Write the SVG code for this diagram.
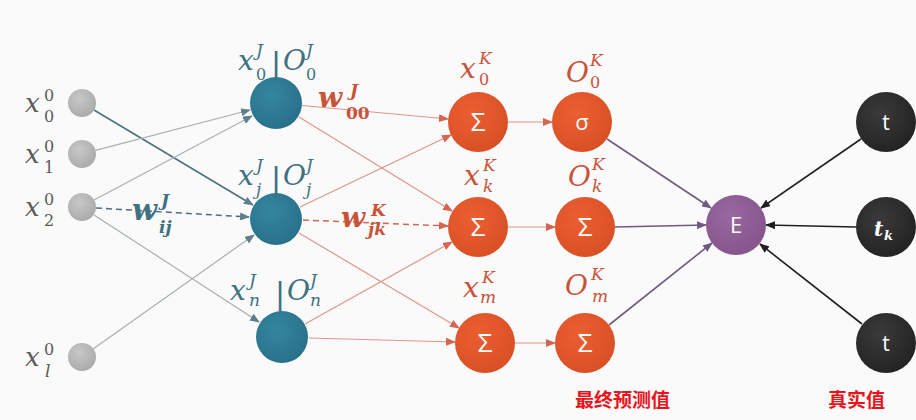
<svg xmlns="http://www.w3.org/2000/svg" width="916" height="420" viewBox="0 0 916 420">
<style>
.m{font-family:"DejaVu Serif","Liberation Serif",serif;font-style:italic}
.big{font-size:28px}
.in{font-size:26px}
.sm{font-size:16px;font-style:normal}
.smi{font-size:17px}
.gry{fill:#5a5a5a}
.tl{fill:#3e7181}
.rd{fill:#c9533a}
.bar{font-family:"DejaVu Sans",sans-serif;font-size:30px;font-style:normal}
.lbl{font-family:"Noto Sans CJK SC","Noto Sans",sans-serif;font-weight:bold;font-size:19px;fill:#e8141c}
.nt{font-family:"Open Sans","DejaVu Sans",sans-serif;fill:#fff;text-anchor:middle}
.eg{stroke:#a8b0b4;stroke-width:1.2;fill:none}
.egd{stroke:#4d6f7d;stroke-width:1.5;fill:none}
.er{stroke:#de968b;stroke-width:1.2;fill:none}
.erd{stroke:#d2664f;stroke-width:1.5;fill:none;stroke-dasharray:6 4}
.ep{stroke:#6e5c80;stroke-width:1.6;fill:none}
.eb{stroke:#1f1f1f;stroke-width:1.6;fill:none}
</style>
<defs>
<radialGradient id="gGray" cx="40%" cy="35%" r="70%"><stop offset="0" stop-color="#c8c8c8"/><stop offset="1" stop-color="#a9a9a9"/></radialGradient>
<radialGradient id="gBlue" cx="40%" cy="35%" r="70%"><stop offset="0" stop-color="#3586a0"/><stop offset="1" stop-color="#286f88"/></radialGradient>
<radialGradient id="gOr" cx="40%" cy="35%" r="70%"><stop offset="0" stop-color="#ea5f31"/><stop offset="1" stop-color="#d94f25"/></radialGradient>
<radialGradient id="gPu" cx="40%" cy="35%" r="70%"><stop offset="0" stop-color="#9a68a0"/><stop offset="1" stop-color="#85548b"/></radialGradient>
<radialGradient id="gBk" cx="40%" cy="35%" r="70%"><stop offset="0" stop-color="#3a3a3a"/><stop offset="1" stop-color="#222"/></radialGradient>
<marker id="aG" markerUnits="userSpaceOnUse" markerWidth="10" markerHeight="8" refX="9" refY="4" orient="auto"><path d="M0,0 L10,4 L0,8 z" fill="#5f7f8b"/></marker>
<marker id="aR" markerUnits="userSpaceOnUse" markerWidth="10" markerHeight="8" refX="9" refY="4" orient="auto"><path d="M0,0 L10,4 L0,8 z" fill="#d2664f"/></marker>
<marker id="aP" markerUnits="userSpaceOnUse" markerWidth="10" markerHeight="8" refX="9" refY="4" orient="auto"><path d="M0,0 L10,4 L0,8 z" fill="#6e5c80"/></marker>
<marker id="aB" markerUnits="userSpaceOnUse" markerWidth="10" markerHeight="8" refX="9" refY="4" orient="auto"><path d="M0,0 L10,4 L0,8 z" fill="#1f1f1f"/></marker>
</defs>
<rect width="916" height="420" fill="#fafafa"/>

<g id="connectors">
<line class="egd" x1="94" y1="110" x2="253" y2="205" marker-end="url(#aG)"/>
<line class="eg" x1="95.5" y1="150.4" x2="250" y2="110" marker-end="url(#aG)"/>
<line class="eg" x1="94" y1="200" x2="252" y2="116" marker-end="url(#aG)"/>
<line class="egd" x1="96" y1="208" x2="249" y2="217" stroke-dasharray="6 4" marker-end="url(#aG)"/>
<line class="eg" x1="94" y1="215" x2="259" y2="322" marker-end="url(#aG)"/>
<line class="eg" x1="93" y1="349" x2="254" y2="235" marker-end="url(#aG)"/>

<line class="er" x1="302" y1="105.5" x2="448" y2="119" marker-end="url(#aR)"/>
<line class="er" x1="299" y1="117" x2="452" y2="211" marker-end="url(#aR)"/>
<line class="er" x1="300" y1="207" x2="451" y2="135" marker-end="url(#aR)"/>
<line class="erd" x1="303" y1="220" x2="448" y2="226" marker-end="url(#aR)"/>
<line class="er" x1="299" y1="233" x2="459" y2="328" marker-end="url(#aR)"/>
<line class="er" x1="305" y1="324" x2="452" y2="242" marker-end="url(#aR)"/>
<line class="er" x1="309" y1="338" x2="455" y2="342" marker-end="url(#aR)"/>

<line class="er" x1="508" y1="122" x2="552" y2="122" marker-end="url(#aR)"/>
<line class="er" x1="508" y1="227" x2="555" y2="227" marker-end="url(#aR)"/>
<line class="er" x1="515" y1="343" x2="555" y2="343" marker-end="url(#aR)"/>

<line class="ep" x1="607" y1="139" x2="711" y2="208" marker-end="url(#aP)"/>
<line class="ep" x1="615" y1="227" x2="706" y2="225" marker-end="url(#aP)"/>
<line class="ep" x1="609" y1="325" x2="712" y2="243" marker-end="url(#aP)"/>

<line class="eb" x1="861" y1="139" x2="761" y2="208" marker-end="url(#aB)"/>
<line class="eb" x1="856" y1="227" x2="766" y2="225" marker-end="url(#aB)"/>
<line class="eb" x1="862" y1="324" x2="760" y2="244" marker-end="url(#aB)"/>
</g>

<g id="in0"><circle cx="82" cy="103" r="14" fill="url(#gGray)"/>
<text class="m in gry" x="25" y="112">x</text><text class="m sm gry" x="44" y="101">0</text><text class="m sm gry" x="44" y="122">0</text></g>
<g id="in1"><circle cx="82" cy="154" r="14" fill="url(#gGray)"/>
<text class="m in gry" x="25" y="163">x</text><text class="m sm gry" x="44" y="152">0</text><text class="m sm gry" x="44" y="173">1</text></g>
<g id="in2"><circle cx="82" cy="207" r="14" fill="url(#gGray)"/>
<text class="m in gry" x="25" y="216">x</text><text class="m sm gry" x="44" y="205">0</text><text class="m sm gry" x="44" y="226">2</text></g>
<g id="inl"><circle cx="82" cy="357" r="14" fill="url(#gGray)"/>
<text class="m in gry" x="25" y="366">x</text><text class="m sm gry" x="44" y="355">0</text><text class="m smi gry" x="45" y="377">l</text></g>

<g id="wij"><text class="m tl" font-size="29" font-weight="bold" x="132" y="220">w</text><text class="m tl" font-size="17" font-weight="bold" x="161" y="206">J</text><text class="m tl" font-size="17" font-weight="bold" x="159" y="233">ij</text></g>

<g id="hj0"><circle cx="276" cy="103" r="26" fill="url(#gBlue)"/>
<text class="m big tl" x="238" y="70">x</text><text class="m smi tl" x="256" y="56">J</text><text class="m sm tl" x="256" y="80">0</text>
<text class="bar tl" x="271" y="74">|</text><text class="m big tl" x="283" y="70">O</text><text class="m smi tl" x="306" y="56">J</text><text class="m sm tl" x="306" y="80">0</text></g>
<g id="hjj"><circle cx="276" cy="219" r="26" fill="url(#gBlue)"/>
<text class="m big tl" x="238" y="185">x</text><text class="m smi tl" x="256" y="171">J</text><text class="m smi tl" x="256" y="195">j</text>
<text class="bar tl" x="271" y="189">|</text><text class="m big tl" x="283" y="185">O</text><text class="m smi tl" x="306" y="171">J</text><text class="m smi tl" x="306" y="195">j</text></g>
<g id="hjn"><circle cx="282" cy="337" r="26" fill="url(#gBlue)"/>
<text class="m big tl" x="230" y="300">x</text><text class="m smi tl" x="249" y="286">J</text><text class="m smi tl" x="249" y="306">n</text>
<text class="bar tl" x="275" y="304">|</text><text class="m big tl" x="287" y="300">O</text><text class="m smi tl" x="310" y="286">J</text><text class="m smi tl" x="310" y="306">n</text></g>

<g id="w00"><text class="m rd" font-size="28" font-weight="bold" x="318" y="107">w</text><text class="m rd" font-size="17" font-weight="bold" x="350" y="96">J</text><text class="rd" font-family="DejaVu Serif,serif" font-size="17" font-weight="bold" x="346" y="119">00</text></g>
<g id="wjk"><text class="m rd" font-size="28" font-weight="bold" x="341" y="227">w</text><text class="m rd" font-size="17" font-weight="bold" x="371" y="216">K</text><text class="m rd" font-size="17" font-weight="bold" x="368" y="235">jk</text></g>

<g id="k0"><circle cx="478" cy="122" r="30" fill="url(#gOr)"/><text class="nt" x="478" y="131" font-size="26">Σ</text>
<text class="m big rd" x="460" y="78">x</text><text class="m smi rd" x="479" y="64">K</text><text class="m sm rd" x="479" y="85">0</text></g>
<g id="kk"><circle cx="478" cy="227" r="30" fill="url(#gOr)"/><text class="nt" x="478" y="236" font-size="26">Σ</text>
<text class="m big rd" x="464" y="185">x</text><text class="m smi rd" x="483" y="171">K</text><text class="m smi rd" x="483" y="192">k</text></g>
<g id="km"><circle cx="485" cy="343" r="30" fill="url(#gOr)"/><text class="nt" x="485" y="352" font-size="26">Σ</text>
<text class="m big rd" x="463" y="297">x</text><text class="m smi rd" x="482" y="283">K</text><text class="m smi rd" x="480" y="303">m</text></g>

<g id="o0"><circle cx="582" cy="122" r="30" fill="url(#gOr)"/><text class="nt" x="582" y="130" font-size="22">σ</text>
<text class="m big rd" x="566" y="82">O</text><text class="m smi rd" x="590" y="66">K</text><text class="m sm rd" x="590" y="88">0</text></g>
<g id="ok"><circle cx="585" cy="227" r="30" fill="url(#gOr)"/><text class="nt" x="585" y="236" font-size="26">Σ</text>
<text class="m big rd" x="568" y="186">O</text><text class="m smi rd" x="592" y="170">K</text><text class="m smi rd" x="592" y="192">k</text></g>
<g id="om"><circle cx="585" cy="343" r="30" fill="url(#gOr)"/><text class="nt" x="585" y="352" font-size="26">Σ</text>
<text class="m big rd" x="565" y="295">O</text><text class="m smi rd" x="591" y="280">K</text><text class="m smi rd" x="592" y="302">m</text></g>

<g id="e"><circle cx="736" cy="225" r="30" fill="url(#gPu)"/><text class="nt" x="736" y="233" font-size="22">E</text></g>

<g id="t0"><circle cx="886" cy="122" r="30" fill="url(#gBk)"/><text class="nt" x="886" y="130" font-size="21">t</text></g>
<g id="tk"><circle cx="886" cy="227" r="30" fill="url(#gBk)"/><text x="874" y="236" font-family="DejaVu Serif,serif" font-style="italic" font-weight="bold" font-size="20" fill="#fff">t</text><text x="884" y="240" font-family="DejaVu Serif,serif" font-style="italic" font-weight="bold" font-size="13" fill="#fff">k</text></g>
<g id="tm"><circle cx="886" cy="343" r="30" fill="url(#gBk)"/><text class="nt" x="886" y="351" font-size="21">t</text></g>

<text class="lbl" x="575" y="407">最终预测值</text>
<text class="lbl" x="828" y="407">真实值</text>
</svg>
